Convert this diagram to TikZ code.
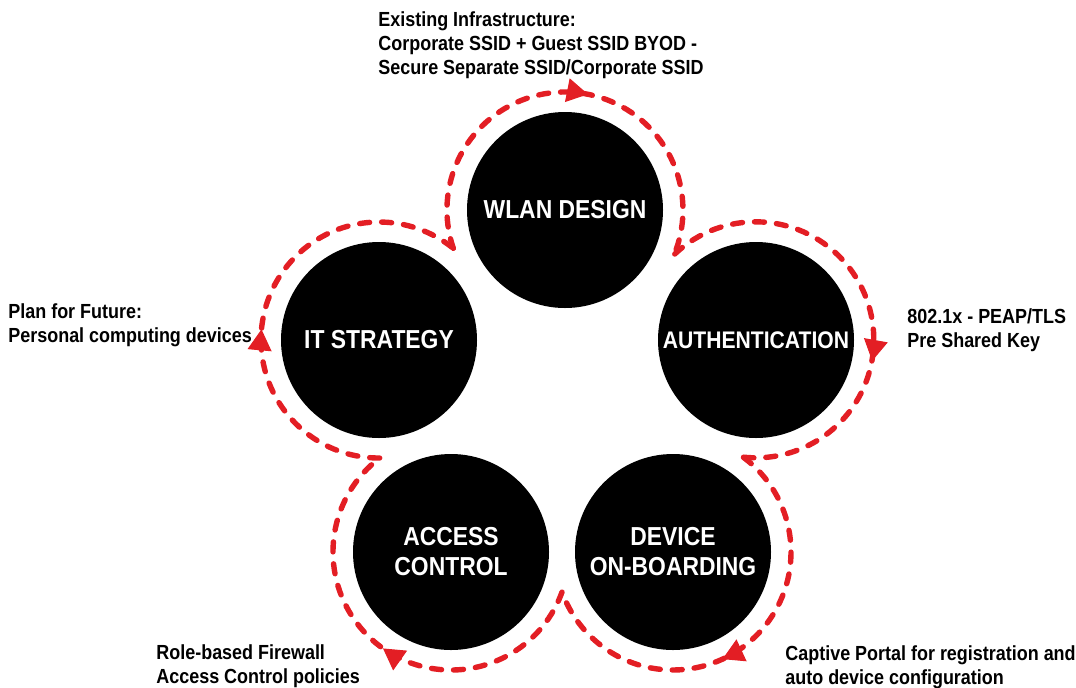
\documentclass[tikz,border=0pt]{standalone}
\usepackage{fontspec}
\setmainfont{Liberation Sans}[FakeStretch=0.88]
\usetikzlibrary{calc,arrows.meta}
\definecolor{flowred}{HTML}{E31E24}

\begin{document}
\begin{tikzpicture}[x=0.5pt,y=0.5pt,
stage/.style={circle,fill=black,minimum size=98pt,inner sep=0pt,text=white,align=center,font=\fontsize{13}{15}\selectfont\bfseries},
note/.style={anchor=north west,inner sep=0pt,align=left,font=\fontsize{10.2}{12.2}\selectfont\bfseries},
flow/.style={draw=flowred,line width=2.7pt,dash pattern=on 5pt off 6pt,line cap=round},
flowtip/.style={flowred,line width=0.5pt,-{Triangle[length=10.5pt,width=12pt]}}]
	\useasboundingbox (0,0) rectangle (1076,-687);
	%stages
	\node[stage] (wlan) at (565,-210) {WLAN DESIGN};
	\node[stage,font=\fontsize{12}{14}\selectfont\bfseries] (auth) at (756,-340) {AUTHENTICATION};
	\node[stage] (dev) at (673,-552) {DEVICE\\ON-BOARDING};
	\node[stage] (acc) at (451,-552) {ACCESS\\CONTROL};
	\node[stage] (its) at (379,-340) {IT STRATEGY};

	%cusps between neighbouring loops
	\foreach \a/\b/\c in {its/wlan/k1, wlan/auth/k2, auth/dev/k3, dev/acc/k4, acc/its/k5}
		\path let \p1=($(\b)-(\a)$), \n1={sqrt(59*59-(veclen(\x1,\y1)/2)^2)} in coordinate (\c) at ($(\a)!0.5!(\b)!{\n1*1pt}!90:(\b)$);

	%dashed loop
	\foreach \st/\ka/\kb in {wlan/k1/k2, auth/k2/k3, dev/k3/k4, acc/k4/k5, its/k5/k1}
		\draw[flow] let \p1=($(\ka)-(\st)$), \p2=($(\kb)-(\st)$), \n1={atan2(\y1,\x1)}, \n2={atan2(\y2,\x2)}, \n3={mod(\n1-\n2+720,360)} in (\ka) arc[start angle=\n1, delta angle=-\n3, radius=59pt];

	%arrow tips
	\foreach \st/\ang in {wlan/89, auth/0, dev/-55, acc/-115, its/185}
		\draw[flowtip] (\st) ++(\ang:59pt) arc[start angle=\ang, delta angle=-10.2, radius=59pt];

	%notes
	\node[note] (infra) at (378,-11) {Existing Infrastructure:\\Corporate SSID + Guest SSID BYOD -\\Secure Separate SSID/Corporate SSID};
	\node[note] (authnote) at (907,-308) {802.1x - PEAP/TLS\\Pre Shared Key};
	\node[note] (portal) at (785,-645) {Captive Portal for registration and\\auto device configuration};
	\node[note] (firewall) at (156,-644) {Role-based Firewall\\Access Control policies};
	\node[note] (future) at (8,-303) {Plan for Future:\\Personal computing devices};
\end{tikzpicture}
\end{document}
